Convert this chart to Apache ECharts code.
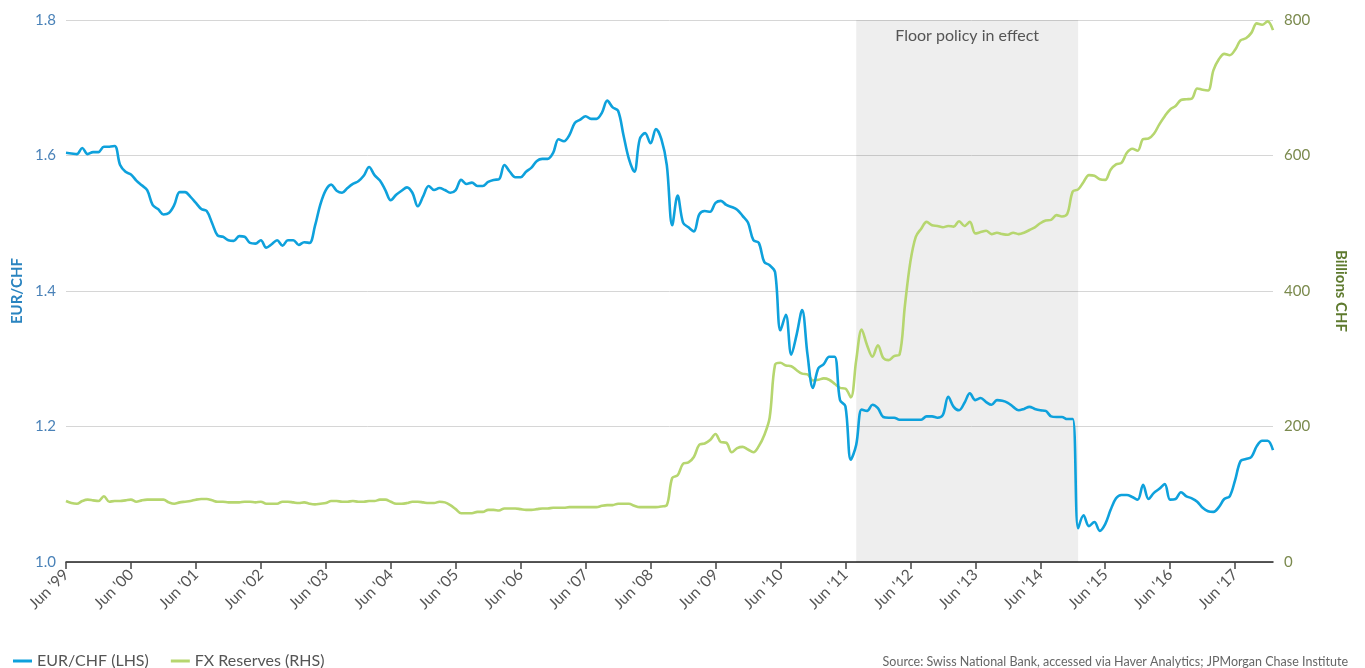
<!DOCTYPE html>
<html>
<head>
<meta charset="utf-8">
<title>EUR/CHF and FX Reserves</title>
<script src="https://cdn.jsdelivr.net/npm/echarts@6/dist/echarts.min.js"></script>
<style>
  html, body { margin: 0; padding: 0; background: #ffffff; }
  #chart { width: 1365px; height: 668px; }
</style>
</head>
<body>
<div id="chart"></div>
<script>
// monthly, Jun 1999 .. Jan 2018
const startYear = 1999;
const startMonth = 5; // June (0-based)
const monthNames = ['Jan', 'Feb', 'Mar', 'Apr', 'May', 'Jun', 'Jul', 'Aug', 'Sep', 'Oct', 'Nov', 'Dec'];

const eurChf = [
  1.604, 1.603, 1.602, 1.611, 1.602, 1.605, 1.605, 1.613, 1.613, 1.614,
  1.586, 1.576, 1.572, 1.563, 1.556, 1.549, 1.527, 1.521, 1.513, 1.515,
  1.527, 1.546, 1.546, 1.539, 1.530, 1.521, 1.518, 1.500, 1.482, 1.480,
  1.475, 1.474, 1.481, 1.480, 1.471, 1.470, 1.475, 1.464, 1.469, 1.475,
  1.467, 1.475, 1.475, 1.468, 1.472, 1.471, 1.496, 1.528, 1.549, 1.557,
  1.548, 1.545, 1.552, 1.558, 1.562, 1.570, 1.583, 1.571, 1.563, 1.549,
  1.534, 1.542, 1.548, 1.553, 1.545, 1.525, 1.540, 1.555, 1.549, 1.552,
  1.549, 1.545, 1.549, 1.564, 1.558, 1.560, 1.555, 1.555, 1.561, 1.564,
  1.565, 1.586, 1.576, 1.568, 1.568, 1.576, 1.582, 1.592, 1.595, 1.595,
  1.604, 1.624, 1.621, 1.630, 1.648, 1.653, 1.658, 1.654, 1.654, 1.663,
  1.681, 1.671, 1.666, 1.630, 1.595, 1.576, 1.624, 1.633, 1.618, 1.639,
  1.624, 1.586, 1.497, 1.541, 1.501, 1.494, 1.488, 1.513, 1.518, 1.517,
  1.530, 1.533, 1.527, 1.524, 1.520, 1.511, 1.501, 1.475, 1.471, 1.443,
  1.438, 1.428, 1.342, 1.365, 1.306, 1.336, 1.372, 1.306, 1.257, 1.286,
  1.292, 1.303, 1.303, 1.239, 1.230, 1.151, 1.173, 1.225, 1.223, 1.232,
  1.227, 1.214, 1.213, 1.213, 1.210, 1.210, 1.210, 1.210, 1.210, 1.215,
  1.215, 1.213, 1.217, 1.244, 1.229, 1.224, 1.235, 1.249, 1.239, 1.242,
  1.236, 1.232, 1.239, 1.238, 1.235, 1.229, 1.224, 1.226, 1.229, 1.226,
  1.224, 1.223, 1.215, 1.214, 1.214, 1.211, 1.211, 1.050, 1.069, 1.053,
  1.059, 1.046, 1.056, 1.077, 1.094, 1.099, 1.099, 1.096, 1.092, 1.114,
  1.093, 1.102, 1.108, 1.115, 1.092, 1.093, 1.103, 1.097, 1.094, 1.089,
  1.080, 1.075, 1.074, 1.081, 1.093, 1.097, 1.121, 1.149, 1.152, 1.155,
  1.171, 1.179, 1.179, 1.165
];

// billions CHF
const fxReserves = [
  90, 87, 86, 90, 92, 91, 90, 97, 89, 90,
  90, 91, 92, 89, 91, 92, 92, 92, 92, 88,
  86, 88, 89, 90, 92, 93, 93, 91, 89, 89,
  88, 88, 88, 89, 89, 88, 89, 86, 86, 86,
  89, 89, 88, 87, 88, 86, 85, 86, 87, 90,
  90, 89, 89, 90, 89, 89, 90, 90, 92, 92,
  89, 86, 86, 87, 89, 89, 88, 87, 87, 89,
  88, 84, 78, 72, 72, 72, 74, 74, 77, 77,
  76, 79, 79, 79, 78, 77, 77, 78, 79, 79,
  80, 80, 80, 81, 81, 81, 81, 81, 81, 83,
  84, 84, 86, 86, 86, 83, 81, 81, 81, 81,
  82, 84, 124, 128, 145, 147, 155, 173, 175, 180,
  189, 177, 176, 162, 168, 170, 166, 162, 171, 187,
  213, 291, 294, 290, 289, 283, 278, 277, 268, 269,
  271, 269, 263, 257, 256, 243, 298, 343, 320, 303,
  320, 301, 298, 304, 306, 379, 443, 480, 492, 502,
  497, 496, 494, 496, 495, 503, 496, 502, 485, 487,
  489, 484, 486, 484, 483, 486, 484, 486, 490, 494,
  500, 504, 505, 512, 510, 514, 547, 550, 561, 571,
  570, 565, 564, 579, 587, 589, 604, 610, 607, 624,
  625, 632, 646, 658, 668, 673, 682, 683, 684, 699,
  697, 696, 726, 742, 750, 748, 756, 770, 773, 781,
  795, 793, 798, 785
];

const floorStart = "Aug '11";
const floorEnd = "Jan '15";
const floorLabel = 'Floor policy in effect';
const sourceText = 'Source: Swiss National Bank, accessed via Haver Analytics; JPMorgan Chase Institute';

const categories = eurChf.map((_, i) => {
  const m = startMonth + i;
  const y = startYear + Math.floor(m / 12);
  return monthNames[m % 12] + " '" + String(y % 100).padStart(2, '0');
});

const isJune = (idx, val) => String(val).startsWith('Jun');

const fontFamily = 'Lato, "Open Sans", sans-serif';

const chart = echarts.init(document.getElementById('chart'), null, { renderer: 'canvas' });

chart.setOption({
  backgroundColor: '#ffffff',
  animation: false,
  textStyle: { fontFamily },
  grid: { left: 66, right: 92, top: 20, bottom: 106, containLabel: false, outerBoundsMode: 'none' },
  legend: {
    left: 8,
    bottom: -6,
    icon: 'rect',
    itemWidth: 19,
    itemHeight: 3,
    itemGap: 22,
    textStyle: { color: '#555555', fontSize: 16, fontFamily },
    data: ['EUR/CHF (LHS)', 'FX Reserves (RHS)']
  },
  graphic: [{
    type: 'text',
    right: 17,
    bottom: 0,
    style: { text: sourceText, fill: '#666666', fontSize: 12.5, fontFamily }
  }],
  xAxis: {
    type: 'category',
    data: categories,
    boundaryGap: false,
    axisLine: { lineStyle: { color: '#222222', width: 1.5 } },
    axisTick: { interval: isJune, length: 7, lineStyle: { color: '#444444', width: 1.5 } },
    axisLabel: { interval: isJune, rotate: 45, color: '#555555', fontSize: 15.5, margin: 10, fontFamily },
    splitLine: { show: false }
  },
  yAxis: [{
    type: 'value',
    min: 1.0,
    max: 1.8,
    interval: 0.2,
    name: 'EUR/CHF',
    nameLocation: 'middle',
    nameRotate: 90,
    nameGap: 40,
    nameTextStyle: { color: '#2a84c0', fontSize: 15, fontWeight: 'bold', fontFamily },
    axisLine: { show: false },
    axisTick: { show: false },
    axisLabel: { color: '#4a82b8', fontSize: 15, margin: 10, formatter: v => v.toFixed(1), fontFamily },
    splitLine: { lineStyle: { color: '#d6d6d6', width: 1 } }
  }, {
    type: 'value',
    min: 0,
    max: 800,
    interval: 200,
    position: 'right',
    name: 'Billions CHF',
    nameLocation: 'middle',
    nameRotate: -90,
    nameGap: 60,
    nameTextStyle: { color: '#5e7a2e', fontSize: 15, fontWeight: 'bold', fontFamily },
    axisLine: { show: false },
    axisTick: { show: false },
    axisLabel: { color: '#7b8a4e', fontSize: 15, margin: 11, fontFamily },
    splitLine: { show: false }
  }],
  series: [{
    name: 'EUR/CHF (LHS)',
    type: 'line',
    yAxisIndex: 0,
    data: eurChf,
    smooth: 0.35,
    showSymbol: false,
    z: 4,
    itemStyle: { color: '#0ea1dc' },
    lineStyle: { color: '#0ea1dc', width: 2.6 },
    markArea: {
      silent: true,
      itemStyle: { color: 'rgba(0,0,0,0.065)' },
      label: {
        show: true,
        position: 'insideTop',
        distance: 8,
        color: '#555555',
        fontSize: 16,
        fontFamily
      },
      data: [[{ name: floorLabel, xAxis: floorStart }, { xAxis: floorEnd }]]
    }
  }, {
    name: 'FX Reserves (RHS)',
    type: 'line',
    yAxisIndex: 1,
    data: fxReserves,
    smooth: 0.35,
    showSymbol: false,
    z: 3,
    itemStyle: { color: '#b6d66f' },
    lineStyle: { color: '#b6d66f', width: 2.6 }
  }]
});
</script>
</body>
</html>
